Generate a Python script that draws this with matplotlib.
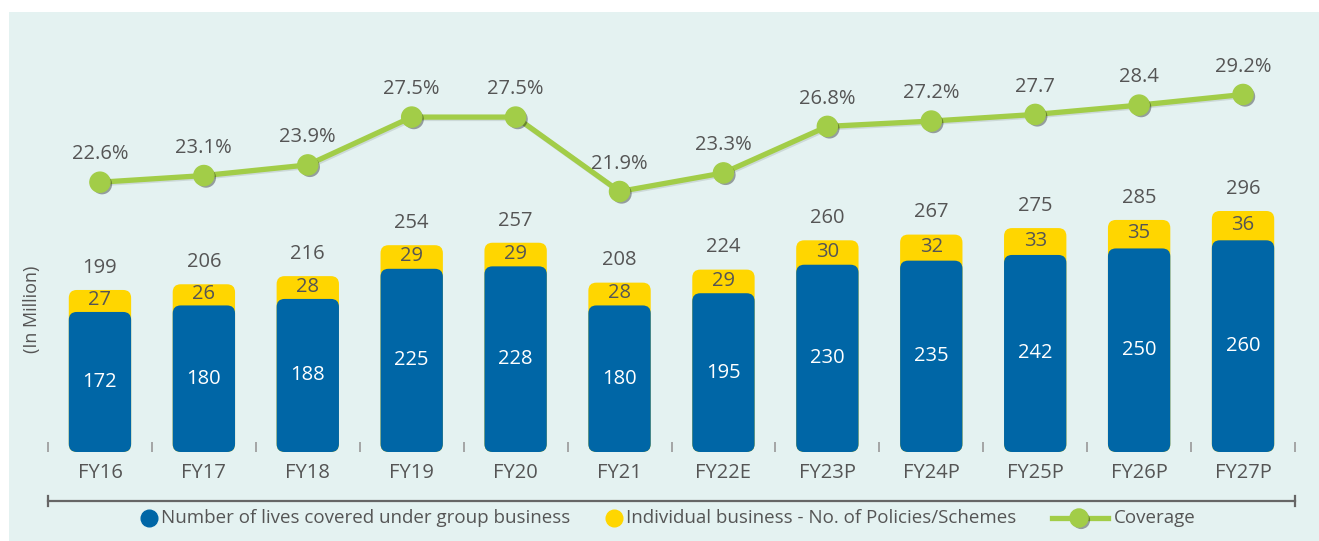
import matplotlib
matplotlib.use("Agg")
from matplotlib import pyplot as plt
from matplotlib.patches import FancyBboxPatch, Rectangle
from matplotlib.lines import Line2D
import matplotlib.patheffects as pe
import numpy as np

categories = ["FY16", "FY17", "FY18", "FY19", "FY20", "FY21",
              "FY22E", "FY23P", "FY24P", "FY25P", "FY26P", "FY27P"]
group_lives = [172, 180, 188, 225, 228, 180, 195, 230, 235, 242, 250, 260]
individual = [27, 26, 28, 29, 29, 28, 29, 30, 32, 33, 35, 36]
totals = [199, 206, 216, 254, 257, 208, 224, 260, 267, 275, 285, 296]
coverage = [22.6, 23.1, 23.9, 27.5, 27.5, 21.9, 23.3, 26.8, 27.2, 27.7, 28.4, 29.2]
coverage_labels = ["22.6%", "23.1%", "23.9%", "27.5%", "27.5%", "21.9%",
                   "23.3%", "26.8%", "27.2%", "27.7", "28.4", "29.2%"]
legend_labels = ["Number of lives covered under group business",
                 "Individual business - No. of Policies/Schemes", "Coverage"]

BLUE = "#0066a6"
YELLOW = "#ffd600"
GREEN = "#a2cd48"
BG = "#e4f2f1"
TXT = "#555555"
FS = 14.5
FS_LEG = 13.5

plt.rcParams["font.family"] = ["Open Sans", "DejaVu Sans"]

W, H = 1319, 541
fig = plt.figure(figsize=(W / 100, H / 100), dpi=100)
fig.patch.set_facecolor("white")
fig.add_artist(Rectangle((9 / W, 0), 1, 1 - 12 / H, transform=fig.transFigure,
                         facecolor=BG, edgecolor="none", zorder=-10))

left, right, bottom, top = 48, 1295, 452, 40
ax = fig.add_axes([left / W, 1 - bottom / H, (right - left) / W, (bottom - top) / H])
ax.set_facecolor("none")
for s in ax.spines.values():
    s.set_visible(False)

x = np.arange(len(categories))
ymax = 506
ax.set_xlim(-0.5, len(categories) - 0.5)
ax.set_ylim(0, ymax)

# px per unit, used to keep the rounded corners circular
px_x = (right - left) / len(categories)
px_y = (bottom - top) / ymax
aspect = px_x / px_y
radius = 8 / px_x


def rounded(bars, color, z):
    for b in bars:
        b.set_visible(False)
        p = FancyBboxPatch((b.get_x(), b.get_y()), b.get_width(), b.get_height(),
                           boxstyle=f"round,pad=0,rounding_size={radius}",
                           mutation_aspect=aspect, facecolor=color,
                           edgecolor="none", zorder=z)
        ax.add_patch(p)


bw = 0.6
yb = ax.bar(x, totals, width=bw)
rounded(yb, YELLOW, 2)
bb = ax.bar(x, group_lives, width=bw)
rounded(bb, BLUE, 3)

for i in range(len(categories)):
    ax.text(x[i], group_lives[i] / 2, str(group_lives[i]), ha="center", va="center",
            color="white", fontsize=FS, zorder=5)
    ax.text(x[i], group_lives[i] + individual[i] / 2 + 1, str(individual[i]),
            ha="center", va="center", color=TXT, fontsize=FS, zorder=5)
    ax.annotate(str(totals[i]), (x[i], totals[i]), xytext=(0, 16),
                textcoords="offset points", ha="center", va="center",
                color=TXT, fontsize=FS)

ax.set_xticks(x)
ax.set_xticklabels(categories, fontsize=FS, color=TXT)
ax.tick_params(axis="x", which="major", length=0, pad=8)
ax.set_xticks(np.arange(-0.5, len(categories)), minor=True)
ax.tick_params(axis="x", which="minor", direction="in", length=7, width=1.2,
               color="#999999")
ax.set_yticks([])

ax2 = ax.twinx()
ax2.set_ylim(2.3, 33.3)
ax2.set_yticks([])
for s in ax2.spines.values():
    s.set_visible(False)
line_fx = [pe.SimpleLineShadow(offset=(1, -1), shadow_color="black", alpha=0.1),
           pe.Normal()]
dot_fx = [pe.SimplePatchShadow(offset=(1.5, -1.5), shadow_rgbFace="black", alpha=0.35),
          pe.Normal()]
ax2.plot(x, coverage, color=GREEN, lw=3.8, path_effects=line_fx,
         solid_capstyle="round")
ax2.plot(x, coverage, ls="none", marker="o", markersize=14.5,
         markerfacecolor=GREEN, markeredgecolor=GREEN, path_effects=dot_fx)
for i in range(len(categories)):
    ax2.annotate(coverage_labels[i], (x[i], coverage[i]), xytext=(0, 20),
                 textcoords="offset points", ha="center", va="center",
                 color=TXT, fontsize=FS)

fig.text(32 / W, 1 - 309 / H, "(In Million)", rotation=90, ha="center",
         va="center", color=TXT, fontsize=13)

# separator line above the legend
ly = 1 - 501 / H
fig.add_artist(Line2D([left / W, right / W], [ly, ly], color="#666666", lw=1.6,
                      transform=fig.transFigure))
for xe in (left, right):
    fig.add_artist(Line2D([xe / W, xe / W], [ly - 5 / H, ly + 5 / H],
                          color="#666666", lw=1.6, transform=fig.transFigure))

# legend, laid out by hand
lgy = 1 - 518 / H
fig.add_artist(Line2D([149 / W], [lgy], ls="none", marker="o", markersize=12,
                      color=BLUE, transform=fig.transFigure))
fig.text(161 / W, lgy, legend_labels[0], ha="left", va="center", color=TXT,
         fontsize=FS_LEG)
fig.add_artist(Line2D([614 / W], [lgy], ls="none", marker="o", markersize=12,
                      color=YELLOW, transform=fig.transFigure))
fig.text(626 / W, lgy, legend_labels[1], ha="left", va="center", color=TXT,
         fontsize=FS_LEG)
fig.add_artist(Line2D([1052 / W, 1108 / W], [lgy, lgy], color=GREEN, lw=3.8,
                      transform=fig.transFigure))
fig.add_artist(Line2D([1079 / W], [lgy], ls="none", marker="o", markersize=13,
                      color=GREEN, path_effects=dot_fx, transform=fig.transFigure))
fig.text(1114 / W, lgy, legend_labels[2], ha="left", va="center", color=TXT,
         fontsize=FS_LEG)

fig.savefig("out.png", dpi=100, facecolor=fig.get_facecolor())
